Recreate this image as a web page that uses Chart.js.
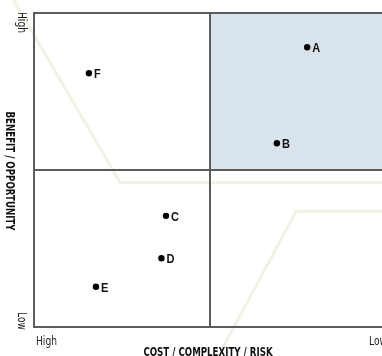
<!DOCTYPE html>
<html>
<head>
<meta charset="utf-8">
<script src="https://cdn.jsdelivr.net/npm/chart.js@4/dist/chart.umd.min.js"></script>
<style>
  html, body { margin: 0; padding: 0; background: #ffffff; overflow: hidden; }
  #wrap { width: 382px; height: 356px; overflow: hidden; }
  canvas { display: block; }
</style>
</head>
<body>
<div id="wrap"><canvas id="matrix" width="390" height="356"></canvas></div>
<script>
// Initiatives placed on the benefit vs. cost matrix
const labels = ['A', 'B', 'C', 'D', 'E', 'F'];
// cost axis runs from High (0) on the left to Low (10) on the right
const costScore = [7.76, 6.90, 3.75, 3.62, 1.76, 1.56];
// benefit axis runs from Low (0) at the bottom to High (10) at the top
const benefitScore = [8.91, 5.85, 3.54, 2.19, 1.28, 8.08];

const xTickLabels = ['High', 'Low'];
const yTickLabels = ['Low', 'High'];
const xTitle = 'COST / COMPLEXITY / RISK';
const yTitle = 'BENEFIT / OPPORTUNITY';

const points = labels.map((l, i) => ({ x: costScore[i], y: benefitScore[i], label: l }));

const NARROW = '"DejaVu Sans Condensed", "Liberation Sans Narrow", sans-serif';
const SANS = '"Liberation Sans", Arial, sans-serif';

// Faint decorative outline behind the grid, in chart-area fractions
const watermark = [
  [[-0.058, -0.041], [0.245, 0.541], [1.05, 0.541]],
  [[0.52, 1.10], [0.745, 0.631], [1.05, 0.631]]
];

// draw text squeezed horizontally, optionally rotated a quarter turn clockwise
function drawText(ctx, text, x, y, opts) {
  ctx.save();
  ctx.translate(x, y);
  if (opts.rotate) ctx.rotate(Math.PI / 2);
  ctx.scale(opts.sx || 1, 1);
  ctx.font = opts.font;
  ctx.fillStyle = opts.color || '#111';
  ctx.textAlign = opts.align || 'left';
  ctx.textBaseline = opts.baseline || 'alphabetic';
  ctx.fillText(text, 0, 0);
  ctx.restore();
}

const matrixPlugin = {
  id: 'matrix',
  beforeDraw(chart) {
    const { ctx, chartArea: a, scales: { x, y } } = chart;
    const w = a.right - a.left, h = a.bottom - a.top;
    ctx.save();
    ctx.strokeStyle = '#f1f1e6';
    ctx.lineWidth = 3;
    watermark.forEach(path => {
      ctx.beginPath();
      path.forEach(([fx, fy], i) => {
        const px = a.left + fx * w, py = a.top + fy * h;
        i ? ctx.lineTo(px, py) : ctx.moveTo(px, py);
      });
      ctx.stroke();
    });
    // highlighted quadrant: low cost, high benefit
    ctx.fillStyle = '#d9e3ec';
    const x0 = x.getPixelForValue(5), x1 = x.getPixelForValue(10);
    const y0 = y.getPixelForValue(10), y1 = y.getPixelForValue(5);
    ctx.fillRect(x0, y0, x1 - x0, y1 - y0);
    ctx.restore();
  },
  beforeDatasetsDraw(chart) {
    const { ctx, scales: { x, y } } = chart;
    ctx.save();
    ctx.strokeStyle = '#5c5c5c';
    ctx.lineWidth = 2;
    ctx.lineCap = 'square';
    [0, 5, 10].forEach(v => {
      const px = x.getPixelForValue(v);
      ctx.beginPath();
      ctx.moveTo(px, y.getPixelForValue(0));
      ctx.lineTo(px, y.getPixelForValue(10));
      ctx.stroke();
      const py = y.getPixelForValue(v);
      ctx.beginPath();
      ctx.moveTo(x.getPixelForValue(0), py);
      ctx.lineTo(x.getPixelForValue(10), py);
      ctx.stroke();
    });
    ctx.restore();
  },
  afterDatasetsDraw(chart) {
    const { ctx, chartArea: a, scales: { x, y } } = chart;
    // point labels
    chart.getDatasetMeta(0).data.forEach((el, i) => {
      drawText(ctx, points[i].label, el.x + 5, el.y + 1.5,
        { font: 'bold 12px ' + SANS, sx: 0.92, baseline: 'middle', color: '#111' });
    });
    // x tick labels
    const tick = { font: '13px ' + NARROW, sx: 0.78, color: '#222' };
    drawText(ctx, xTickLabels[0], x.getPixelForValue(0) + 2, a.bottom + 18, tick);
    drawText(ctx, xTickLabels[1], x.getPixelForValue(10) + 1, a.bottom + 18, { ...tick, align: 'right' });
    // axis titles
    const title = { font: 'bold 13px ' + NARROW, sx: 0.74, color: '#111' };
    drawText(ctx, xTitle, (a.left + a.right) / 2 - 2, a.bottom + 28.5, { ...title, align: 'center' });
    // y labels read top to bottom
    const rtick = { ...tick, rotate: true, baseline: 'middle' };
    drawText(ctx, yTickLabels[1], a.left - 13, y.getPixelForValue(10) - 1, { ...rtick, align: 'left' });
    drawText(ctx, yTickLabels[0], a.left - 13, y.getPixelForValue(0) + 3, { ...rtick, align: 'right' });
    drawText(ctx, yTitle, a.left - 25, (a.top + a.bottom) / 2 + 1,
      { ...title, rotate: true, baseline: 'middle', align: 'center' });
  }
};

new Chart(document.getElementById('matrix'), {
  type: 'scatter',
  data: {
    datasets: [{
      data: points,
      pointRadius: 3.2,
      pointHoverRadius: 3.2,
      backgroundColor: '#000',
      borderColor: '#000',
      borderWidth: 0
    }]
  },
  options: {
    responsive: false,
    animation: false,
    events: [],
    layout: { padding: { left: 34, right: 4, top: 13, bottom: 29 } },
    scales: {
      x: { type: 'linear', min: 0, max: 10, display: false },
      y: { type: 'linear', min: 0, max: 10, display: false }
    },
    plugins: { legend: { display: false }, tooltip: { enabled: false } }
  },
  plugins: [matrixPlugin]
});
</script>
</body>
</html>
